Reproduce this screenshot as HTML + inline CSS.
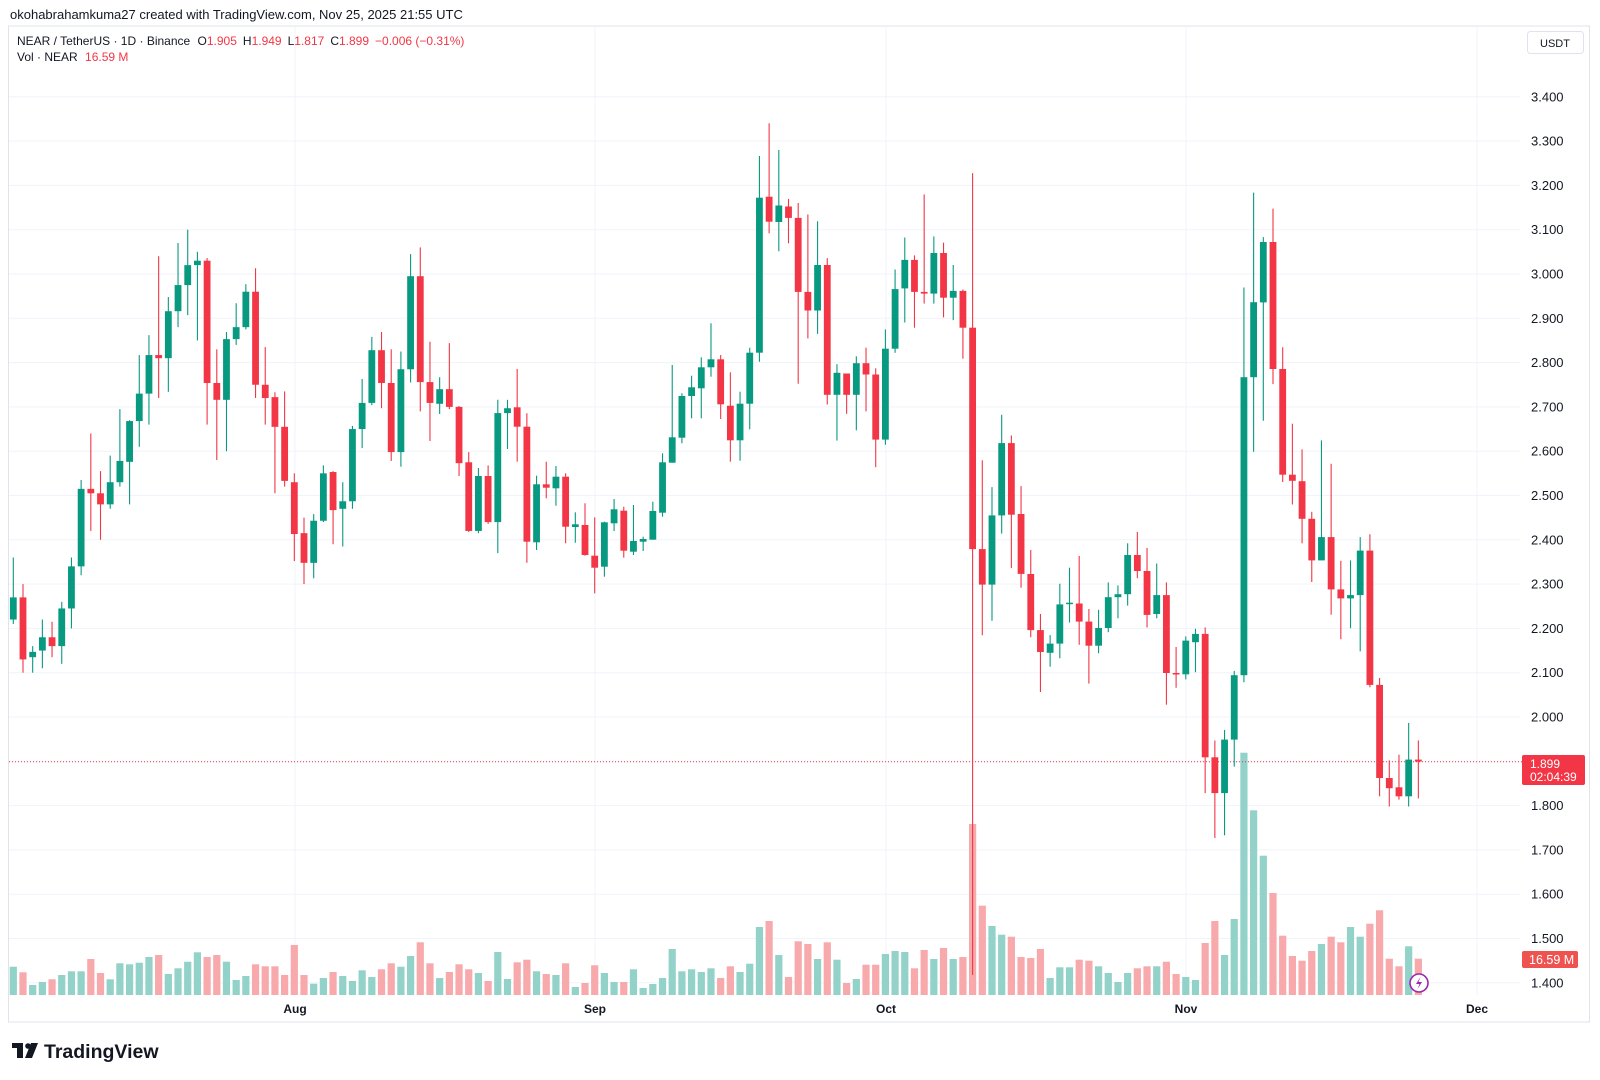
<!DOCTYPE html>
<html><head><meta charset="utf-8">
<style>
html,body{margin:0;padding:0;background:#fff;width:1600px;height:1080px;overflow:hidden;font-family:"Liberation Sans",Arial,sans-serif;}
svg{position:absolute;left:0;top:0}
</style></head>
<body>
<svg id="s" width="1600" height="1080" viewBox="0 0 1600 1080" xmlns="http://www.w3.org/2000/svg" font-family="Liberation Sans, Arial, sans-serif">
<rect x="0" y="0" width="1600" height="1080" fill="#fff"/>
<text x="10" y="19" font-size="13" fill="#131722">okohabrahamkuma27 created with TradingView.com, Nov 25, 2025 21:55 UTC</text>
<rect x="8.5" y="26" width="1581" height="996" fill="none" stroke="#e0e3eb" stroke-width="1"/>
<g id="grid"></g>
<g id="vol"></g>
<line x1="9" y1="761.7" x2="1525" y2="761.7" stroke="#F23645" stroke-width="1" stroke-dasharray="1,2"/>
<g id="cdl"></g>
<g id="plab" font-size="13" fill="#131722"></g>
<g font-size="12" font-weight="bold" fill="#131722" text-anchor="middle">
<text x="295" y="1013">Aug</text><text x="595" y="1013">Sep</text><text x="886" y="1013">Oct</text><text x="1186" y="1013">Nov</text><text x="1477" y="1013">Dec</text>
</g>
<text x="17" y="45" font-size="12" fill="#131722">NEAR / TetherUS · 1D · Binance <tspan dx="4">O</tspan><tspan fill="#F23645">1.905</tspan><tspan dx="6">H</tspan><tspan fill="#F23645">1.949</tspan><tspan dx="6">L</tspan><tspan fill="#F23645">1.817</tspan><tspan dx="6">C</tspan><tspan fill="#F23645">1.899</tspan><tspan dx="6" fill="#F23645">−0.006 (−0.31%)</tspan></text>
<text x="17" y="61" font-size="12" fill="#131722">Vol · NEAR <tspan dx="4" fill="#F23645">16.59 M</tspan></text>
<rect x="1527.5" y="31.5" width="56" height="22" rx="3" fill="#fff" stroke="#e0e3eb"/>
<text x="1555" y="47" font-size="11" fill="#131722" text-anchor="middle">USDT</text>
<rect x="1522" y="755" width="63" height="30" rx="2" fill="#F23645"/>
<text x="1530" y="768" font-size="12" fill="#fff">1.899</text>
<text x="1530" y="781" font-size="12" fill="#fff">02:04:39</text>
<rect x="1522" y="951" width="56" height="17" rx="2" fill="#EF5350"/>
<text x="1529" y="964" font-size="12.5" fill="#fff">16.59 M</text>
<circle cx="1419" cy="983" r="9" fill="#fff" stroke="#9c27b0" stroke-width="1.6"/>
<path d="M1420.5 977 L1416 984 L1419.5 984 L1417.5 989 L1422 982 L1418.5 982 Z" fill="#9c27b0"/>
<g fill="#131722">
<rect x="12" y="1043" width="11" height="5"/>
<rect x="17" y="1043" width="6" height="15"/>
<circle cx="28" cy="1046" r="2.8"/>
<path d="M31 1043 L38 1043 L32 1058 L25 1058 Z"/>
</g>
<text x="44" y="1058" font-size="19.5" font-weight="bold" fill="#131722">TradingView</text>
</svg>
<script>
(function(){
var NS="http://www.w3.org/2000/svg";
function el(p,t,a){var e=document.createElementNS(NS,t);for(var k in a)e.setAttribute(k,a[k]);p.appendChild(e);return e;}
function Y(p){return 717+(2-p)*443;}
var grid=document.getElementById('grid');
for(var i=0;i<=20;i++){var p=1.4+i*0.1;var y=Y(p);el(grid,'line',{x1:9,y1:y,x2:1520,y2:y,stroke:'#f0f3fa','stroke-width':1});
 var t=el(document.getElementById('plab'),'text',{x:1531,y:y+4.5});t.textContent=p.toFixed(3);}
[295,595,886,1186,1477].forEach(function(x){el(grid,'line',{x1:x,y1:27,x2:x,y2:995,stroke:'#f0f3fa','stroke-width':1});});
var P=[[2.22,2.36,2.21,2.27],[2.27,2.30,2.10,2.13],[2.135,2.16,2.10,2.147],[2.15,2.22,2.11,2.18],[2.18,2.215,2.135,2.16],[2.16,2.26,2.12,2.245],[2.245,2.36,2.20,2.34],[2.34,2.535,2.32,2.515],[2.515,2.64,2.42,2.505],[2.505,2.555,2.40,2.48],[2.48,2.59,2.47,2.53],[2.53,2.695,2.52,2.578],[2.576,2.67,2.48,2.668],[2.668,2.817,2.61,2.73],[2.73,2.862,2.66,2.817],[2.817,3.04,2.72,2.81],[2.81,2.948,2.734,2.916],[2.916,3.07,2.88,2.975],[2.975,3.10,2.907,3.02],[3.02,3.05,2.85,3.03],[3.03,3.036,2.66,2.754],[2.754,2.83,2.58,2.716],[2.716,2.869,2.60,2.853],[2.853,2.934,2.84,2.88],[2.88,2.977,2.875,2.96],[2.96,3.013,2.72,2.75],[2.75,2.835,2.66,2.72],[2.722,2.733,2.505,2.655],[2.655,2.735,2.52,2.533],[2.53,2.55,2.352,2.413],[2.415,2.45,2.30,2.348],[2.348,2.458,2.313,2.443],[2.443,2.568,2.44,2.55],[2.553,2.555,2.39,2.467],[2.47,2.53,2.385,2.487],[2.487,2.657,2.47,2.65],[2.65,2.763,2.607,2.709],[2.709,2.858,2.704,2.828],[2.828,2.869,2.697,2.754],[2.754,2.83,2.578,2.598],[2.598,2.825,2.565,2.785],[2.785,3.045,2.755,2.995],[2.995,3.06,2.69,2.756],[2.756,2.847,2.623,2.709],[2.707,2.767,2.684,2.74],[2.74,2.844,2.695,2.70],[2.70,2.702,2.544,2.573],[2.575,2.598,2.418,2.42],[2.42,2.562,2.415,2.544],[2.544,2.568,2.436,2.44],[2.44,2.716,2.37,2.686],[2.686,2.716,2.605,2.697]];
var C=P.map(function(a){return a.map(Y);});
var Q=[[407.3,369,461.7,426.7],[426.7,413.3,562.7,541.7],[542.3,475.7,550,484.3],[484.3,461.7,498.3,487.7],[488.3,466,505.7,476.7],[476.7,473.3,543.3,526.7],[527,512.3,542.7,524.3],[525,503.3,555.7,555],[555.7,517.3,593.3,567.7],[566.7,521.7,576.7,522.3],[523.3,499,531,509.3],[510.7,506.7,557.7,550.7],[551.7,505,555,541],[541.7,536.7,551,539],[539.7,501.7,539.7,511],[512.7,453.3,516.7,462.3],[462.7,365,462.7,437.3],[437.7,393.3,443.3,396],[396,375.7,418.3,387.3],[388.3,357.3,418.3,367.3],[367.3,323.3,376.7,359.3],[359.3,355,419,404.3],[405.7,372.3,461.7,440.3],[440.3,391.7,460.7,403.7],[403.7,347.7,429.3,352.7],[352.7,156,361.7,197.7],[196.7,123.3,233.3,221.7],[222,150,251.3,205.5],[206.5,198.9,243.3,217.9],[217.9,203,383.8,291.9],[291.9,214.4,338.4,310.5],[310.5,221.3,333.9,265],[265,258.1,404.5,394.8],[394.8,364.2,440.6,372.8],[373.5,373.5,413.8,394.8],[394.8,356.3,430.3,363.2],[363.2,347.7,411.4,374.5],[374.5,368.3,467.2,439.6],[439.6,329.4,444.8,348.7],[348.7,269.5,352.8,289.1],[288.4,237.5,322.5,259.9],[259.9,255.4,327.7,291.9],[291.9,194.4,303.6,293.6],[293.6,236.4,303.6,253],[253,242.6,317.4,297.7],[297.7,265,320.1,290.9],[290.9,289.5,358.7,327.7],[327.7,173.1,975,549.1],[549.1,460.3,635.2,584.6],[584.6,487.1,620.7,515.4],[515.4,414.8,533.6,443.1],[443.1,435.5,568.1,514.7],[514,486.1,587.7,573.9],[574,550,637.2,630.1],[630.1,614,692,652],[652.8,635.1,666.7,643.6],[643.6,583.7,658.3,604.4],[604,567.7,622.5,602.7],[603.5,555.9,644.8,621.6],[621.6,609,683.6,645.7],[645.7,609.8,653.2,628],[628,582.4,632.2,597.2],[597.2,585.4,618.3,594.2],[594.2,543.3,605.6,555],[555,531.9,578.2,571],[571,547.9,627.5,614.9],[614,563.5,618.3,595.1],[595.1,582.4,704.7,673],[673,647,687.8,674.3],[674.3,636.4,679.4,640.6],[642.2,628.8,672.2,633.9],[633.9,627.5,793.1,757.3],[757.3,740.5,838,793.1],[793.1,729.9,835.3,739.6],[739.6,670.9,766.6,675.2],[675.2,287.5,682.3,377.2],[377.2,192.6,451.8,302.2],[302.4,237.1,420.8,242],[242,208.6,384.1,369],[369,347.3,482,474.7],[474.7,423.7,504.5,480.8],[481.2,449.4,543.3,518.8],[518.8,511.8,582,560.4],[560.4,440.4,560.4,537.1],[537.1,463.7,614.7,589.4],[589.4,560.8,639.2,598.4],[598.4,560.4,628.2,595.1],[595.1,537.1,651.4,550.6],[550.6,534.3,687.3,684.9],[684.9,678,796.3,778],[778,760.4,806.5,788.2],[787.3,754.7,799.6,796.3],[796.3,722.9,806.5,759.6],[759.6,740.4,798.4,761.6]];
C=C.concat(Q);
var V=[28.3,22.7,10,13,15.7,20,23.7,23.7,36,22,15.7,31.7,30.7,32.3,38,40,21,26.7,33.3,42.7,38,40,33.3,15,19,30.7,28.7,28.7,20,50,20,11.3,17,23,19,14,24.7,18,25.7,31.7,28.3,39,52.7,31.7,17,23,30.7,25.7,22,14,43,16,32.7,35.3,23.7,21,20,31.7,8,12,29.7,22,13,13,25.7,7,11,17,46,23.7,25.7,23,26.7,17,28.7,23,31.3,68,74,40,18,53.7,51,36,52.7,35.3,12,16,30.3,30.3,41,44,43,26.7,45,36,47,36,38,171,89.3,69,60.3,58.3,38,37,46,17,27.7,27.7,35.3,34.3,28.7,22,13,22,26.7,28.7,28.7,33.3,21,18,15,52,74,40,76,242.3,184.7,139.3,102,59.3,39,34.3,44,51,58.3,52.7,68,58.3,71.3,84.7,36.3,28.7,48.7,36.3];
var vg=document.getElementById('vol'),cg=document.getElementById('cdl');
for(var i=0;i<C.length;i++){
 var c=C[i],x=13.3+i*9.69,up=c[3]<=c[0];
 var col=up?'#089981':'#F23645';
 var h=V[i]||0;
 el(vg,'rect',{x:x-3.6,y:995-h,width:7.2,height:h,fill:up?'#92D2C8':'#F7A9AC'});
 el(cg,'line',{x1:x,y1:c[1],x2:x,y2:c[2],stroke:col,'stroke-width':1.1});
 var by=Math.min(c[0],c[3]),bh=Math.max(1.5,Math.abs(c[3]-c[0]));
 el(cg,'rect',{x:x-3.4,y:by,width:6.8,height:bh,fill:col});
}
})();
</script>
</body></html>
